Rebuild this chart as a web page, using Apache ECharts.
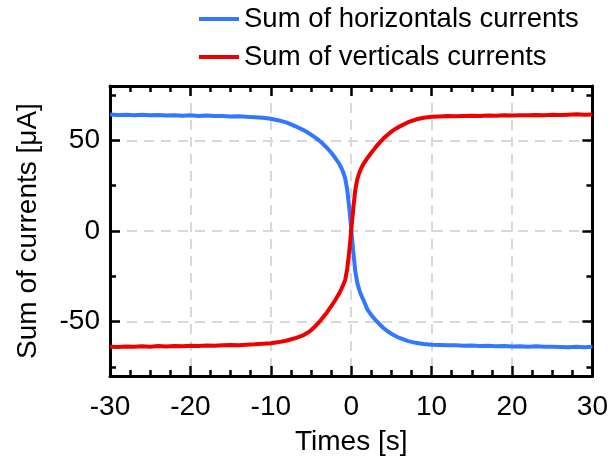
<!DOCTYPE html>
<html>
<head>
<meta charset="utf-8">
<script src="https://cdn.jsdelivr.net/npm/echarts@6/dist/echarts.min.js"></script>
<style>html,body{margin:0;padding:0;background:#fff;}#c{width:611px;height:468px;}</style>
</head>
<body>
<div id="c"></div>
<script>
const times = [-30,-29,-28,-27,-26,-25,-24,-23,-22,-21,-20,-19,-18,-17,-16,-15,-14,-13,-12,-11,-10,-9,-8,-7,-6,
  -5.5,-5,-4.5,-4,-3.5,-3,-2.5,-2,-1.5,
  -1.25,-1,-0.75,-0.5,-0.25,0,0.25,0.5,0.75,1,1.25,
  1.5,2,2.5,3,3.5,4,4.5,5,5.5,
  6,7,8,9,10,11,12,13,14,15,16,17,18,19,20,21,22,23,24,25,26,27,28,29,30];
const horizontals = [64.3,64.0,64.2,63.9,64.1,63.8,64.0,63.7,63.9,63.6,63.8,63.5,63.7,63.4,63.5,63.2,63.3,63.0,62.8,62.5,61.9,61.0,59.8,57.9,55.8,
  54.6,53.2,51.7,50.0,48.0,45.8,43.3,40.4,37.2,
  35.0,32.5,29.0,23.0,13.0,1.0,-11.0,-22.0,-28.5,-32.5,-35.5,
  -37.8,-43.2,-46.4,-49.0,-51.3,-53.5,-55.2,-56.7,-57.9,
  -59.0,-60.6,-61.7,-62.3,-62.7,-62.9,-63.1,-63.0,-63.3,-63.2,-63.4,-63.3,-63.6,-63.5,-63.7,-63.6,-63.8,-63.6,-63.9,-63.8,-64.0,-64.2,-63.9,-64.1,-63.9];
const verticals = [-63.8,-64.0,-63.7,-63.9,-63.6,-63.8,-63.5,-63.7,-63.4,-63.6,-63.3,-63.5,-63.2,-63.3,-63.0,-62.9,-63.0,-62.7,-62.5,-62.2,-61.9,-61.3,-60.4,-59.2,-57.6,
  -56.3,-54.8,-52.7,-50.3,-47.6,-44.8,-41.6,-38.2,-34.5,
  -32.2,-29.8,-27.0,-21.0,-11.5,0.5,12.0,22.5,28.5,32.0,34.8,
  36.8,40.2,43.2,46.0,48.6,51.0,53.0,54.8,56.3,
  57.6,59.9,61.5,62.5,63.0,63.2,63.4,63.3,63.5,63.6,63.5,63.7,63.6,63.8,63.7,63.9,63.8,64.0,63.9,64.1,64.0,64.2,64.4,64.1,64.3];
const yMajorTicks = [-50, 0, 50];
const yMinorTicks = [-75, -25, 25, 75];
const seriesNames = ['Sum of horizontals currents', 'Sum of verticals currents'];

const FONT = '"Liberation Sans", Arial, sans-serif';
const BLUE = '#3377ff', RED = '#ee0000';
const lineStyleAxis = { color: '#000', width: 3 };
const tickStyle = { color: '#000', width: 2.5 };
const gridStyle = { color: '#d9d9d9', width: 2, type: [10, 7] };

function xAx(pos, showLabels) {
  return {
    type: 'value', position: pos, min: -30, max: 30, interval: 10,
    name: showLabels ? 'Times [s]' : '', nameLocation: 'middle', nameGap: 52,
    nameTextStyle: { fontFamily: FONT, fontSize: 28, color: '#000' },
    axisLine: { show: true, onZero: false, lineStyle: lineStyleAxis },
    axisTick: { show: true, inside: true, length: 10, lineStyle: tickStyle },
    minorTick: { show: true, splitNumber: 4, length: 6, lineStyle: tickStyle },
    axisLabel: { show: showLabels, fontFamily: FONT, fontSize: 28, color: '#000', margin: 17 },
    splitLine: { show: showLabels, lineStyle: gridStyle },
    minorSplitLine: { show: false }
  };
}
function yAx(pos, major, showLabels, split) {
  return {
    type: 'value', position: pos, min: -80, max: 80,
    name: showLabels ? 'Sum of currents [μA]' : '', nameLocation: 'middle', nameGap: 68,
    nameTextStyle: { fontFamily: FONT, fontSize: 28, color: '#000' },
    axisLine: { show: major, onZero: false, lineStyle: lineStyleAxis },
    axisTick: { show: true, inside: true, length: major ? 10 : 6, customValues: major ? yMajorTicks : yMinorTicks,
      lineStyle: tickStyle },
    minorTick: { show: false },
    axisLabel: { show: showLabels, customValues: yMajorTicks, fontFamily: FONT, fontSize: 28, color: '#000', margin: 10 },
    splitLine: { show: split, lineStyle: gridStyle }
  };
}

const chart = echarts.init(document.getElementById('c'), null, { renderer: 'canvas' });
chart.setOption({
  backgroundColor: '#fff',
  animation: false,
  grid: { left: 110, right: 16, top: 86, bottom: 92 },
  legend: {
    orient: 'vertical', left: 194, top: 0, itemWidth: 40, itemHeight: 4, itemGap: 10,
    icon: 'rect',
    textStyle: { fontFamily: FONT, fontSize: 27.5, color: '#000' },
    data: seriesNames
  },
  xAxis: [xAx('bottom', true), xAx('top', false)],
  yAxis: [yAx('left', true, true, true), yAx('right', true, false, false),
          yAx('left', false, false, false), yAx('right', false, false, false)],
  series: [
    { name: seriesNames[0], type: 'line', showSymbol: false, symbol: 'none', z: 3,
      lineStyle: { color: BLUE, width: 4 }, itemStyle: { color: BLUE },
      data: times.map((t, i) => [t, horizontals[i]]) },
    { name: seriesNames[1], type: 'line', showSymbol: false, symbol: 'none', z: 4,
      lineStyle: { color: RED, width: 4 }, itemStyle: { color: RED },
      data: times.map((t, i) => [t, verticals[i]]) }
  ]
});
</script>
</body>
</html>
